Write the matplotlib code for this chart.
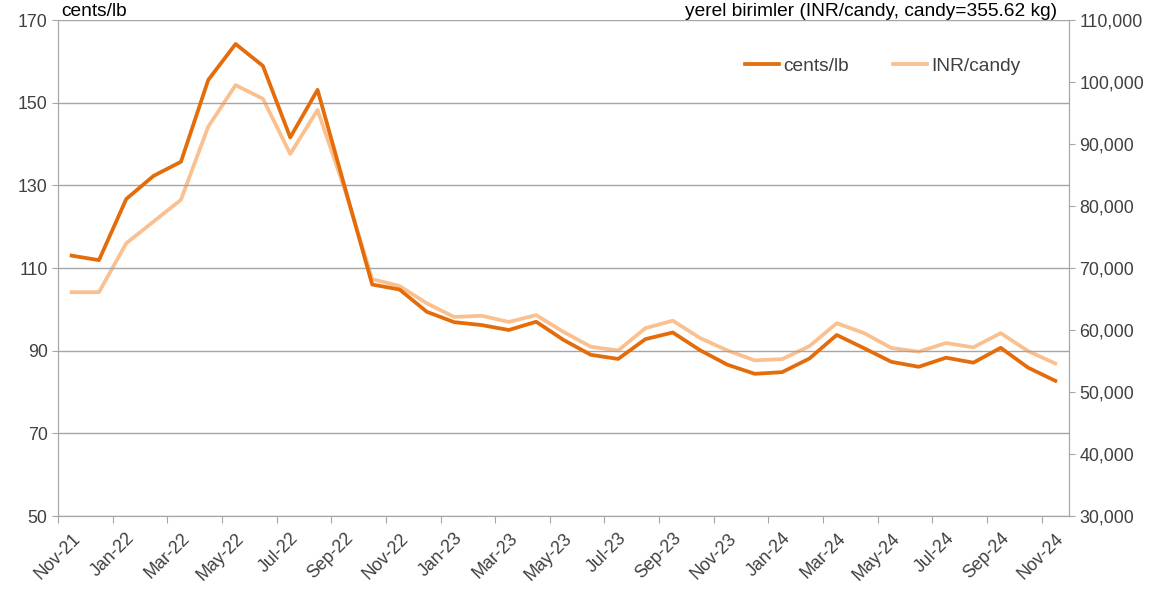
import matplotlib.pyplot as plt
import numpy as np

plt.rcParams['font.family'] = ['Liberation Sans', 'DejaVu Sans']

months = ["Nov-21", "Dec-21", "Jan-22", "Feb-22", "Mar-22", "Apr-22", "May-22", "Jun-22",
          "Jul-22", "Aug-22", "Sep-22", "Oct-22", "Nov-22", "Dec-22", "Jan-23", "Feb-23",
          "Mar-23", "Apr-23", "May-23", "Jun-23", "Jul-23", "Aug-23", "Sep-23", "Oct-23",
          "Nov-23", "Dec-23", "Jan-24", "Feb-24", "Mar-24", "Apr-24", "May-24", "Jun-24",
          "Jul-24", "Aug-24", "Sep-24", "Oct-24", "Nov-24"]

cents_lb = [113.0, 111.9, 126.7, 132.3, 135.7, 155.5, 164.2, 158.9, 141.6, 153.1, 129.5,
            106.0, 104.8, 99.4, 96.9, 96.2, 95.0, 97.0, 92.6, 89.0, 88.0, 92.8, 94.4,
            90.1, 86.6, 84.4, 84.8, 88.1, 93.8, 90.6, 87.3, 86.1, 88.3, 87.1, 90.7,
            85.9, 82.7]

inr_candy = [66100, 66100, 74000, 77500, 81000, 92800, 99500, 97300, 88400, 95500, 82600,
             68200, 67100, 64300, 62100, 62300, 61300, 62400, 59700, 57300, 56700, 60300,
             61500, 58700, 56700, 55100, 55300, 57400, 61100, 59500, 57100, 56500, 57900,
             57200, 59500, 56600, 54600]

dark = '#E46C0A'
light = '#FAC08F'
grey = '#A6A6A6'
txt = '#404040'

x = np.arange(len(months))

fig = plt.figure(figsize=(11.64, 5.94), dpi=100)
ax = fig.add_axes([0.0498, 0.1313, 0.8686, 0.835])
ax2 = ax.twinx()

l1, = ax.plot(x, cents_lb, color=dark, lw=2.7, label='cents/lb', zorder=3)
l2, = ax2.plot(x, inr_candy, color=light, lw=2.7, label='INR/candy', zorder=2)
ax.set_zorder(ax2.get_zorder() + 1)
ax.patch.set_visible(False)

ax.set_ylim(50, 170)
ax.set_yticks(np.arange(50, 171, 20))
ax2.set_ylim(30000, 110000)
ax2.set_yticks(np.arange(30000, 110001, 10000))
ax2.set_yticklabels([f"{v:,}" for v in range(30000, 110001, 10000)])
ax.set_xlim(-0.5, len(months) - 0.5)

ax.grid(axis='y', color=grey, lw=1)
ax.set_axisbelow(True)

# tick marks at category boundaries, labels at category centres
ax.set_xticks(np.arange(-0.5, len(months), 2))
ax.set_xticklabels([])
ax.set_xticks(x[::2], minor=True)
ax.set_xticklabels(months[::2], minor=True, rotation=45, ha='right', va='top',
                   rotation_mode='anchor')
ax.tick_params(axis='x', which='major', length=5, color=grey)
ax.tick_params(axis='x', which='minor', length=0, pad=10, labelsize=12.8, labelcolor=txt)
ax.tick_params(axis='y', length=4, color=grey, labelsize=12.8, labelcolor=txt)
ax2.tick_params(axis='y', length=4, color=grey, labelsize=12.8, labelcolor=txt)

for a in (ax, ax2):
    for s in a.spines.values():
        s.set_color(grey)
    a.spines['top'].set_visible(False)

fig.text(0.053, 0.995, 'cents/lb', fontsize=13.8, color='black', va='top')
fig.text(0.908, 0.995, 'yerel birimler (INR/candy, candy=355.62 kg)', fontsize=13.8,
         color='black', ha='right', va='top')

fig.legend(handles=[l1, l2], loc='center left', bbox_to_anchor=(745 / 1164, 1 - 66 / 594),
           ncol=2, frameon=False, fontsize=13.8, borderpad=0, borderaxespad=0,
           handlelength=1.75, handletextpad=0.25, columnspacing=2.3, labelcolor=txt)

fig.savefig('out.png', dpi=100)
